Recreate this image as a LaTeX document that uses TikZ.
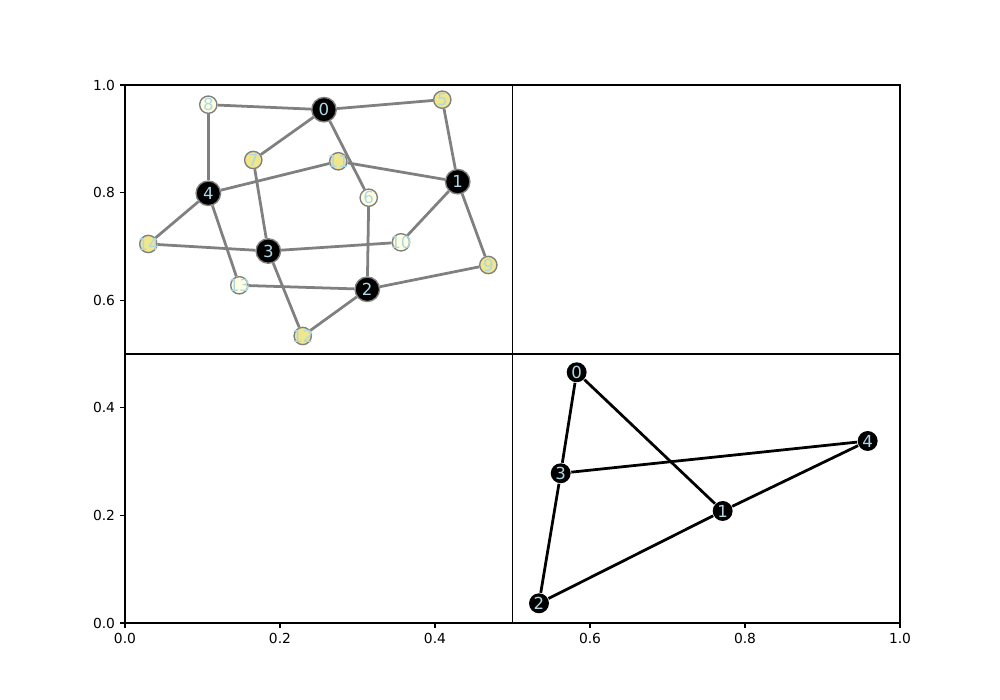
\documentclass[tikz,border=0pt]{standalone}
\usepackage{fontspec}
\setmainfont{DejaVu Sans}
\usetikzlibrary{backgrounds}
\definecolor{khaki}{HTML}{F0E68C}
\definecolor{paleyellow}{HTML}{FFFFE0}
\definecolor{paleblue}{HTML}{ADD8E6}

\begin{document}
\begin{tikzpicture}[x=7.75in,y=5.38in,
                     hub/.style={
                                % The shape:
                                circle,minimum size=17.7pt,inner sep=-4pt,
                                % The rest
                                fill=black,draw=gray,line width=1pt,
                                text=paleblue,font=\fontsize{12}{12}\selectfont},
                     leaf/.style={hub,minimum size=12.5pt},
                     spot/.style={hub,draw=none,minimum size=14.4pt},
                     link/.style={draw=gray,line width=2pt},
                     bond/.style={draw=black,line width=2pt},
                     tick/.style={font=\fontsize{10}{10}\selectfont}]
 \useasboundingbox (-1.25in,-0.77in) rectangle (8.75in,6.23in);
 % axes and panels
 \draw [line width=0.8pt] (0,0) rectangle (1,1)
                          (0.5,0) -- (0.5,1)
                          (0,0.5) -- (1,0.5);
 \foreach \t [count=\i] in {0.0,0.2,0.4,0.6,0.8,1.0}
   {
    \draw [line width=0.8pt] (\t,0) -- ++(0,-3.5pt);
    \draw [line width=0.8pt] (0,\t) -- ++(-3.5pt,0);
    \node (xtick\i) [tick,anchor=north,inner sep=0pt] at ([yshift=-7pt]\t,0) {\t};
    \node (ytick\i) [tick,anchor=east,inner sep=0pt] at ([xshift=-7pt]0,\t) {\t};
   }

 % upper left graph
 \node (t0)  [hub]                  at (0.2568,0.9541) {0};
 \node (t1)  [hub]                  at (0.4293,0.8203) {1};
 \node (t2)  [hub]                  at (0.3126,0.6203) {2};
 \node (t3)  [hub]                  at (0.1849,0.6914) {3};
 \node (t4)  [hub]                  at (0.1075,0.7987) {4};
 \node (t5)  [leaf,fill=khaki]      at (0.4094,0.9727) {5};
 \node (t6)  [leaf,fill=paleyellow] at (0.3145,0.7905) {6};
 \node (t7)  [leaf,fill=khaki]      at (0.1655,0.8606) {7};
 \node (t8)  [leaf,fill=paleyellow] at (0.1075,0.9634) {8};
 \node (t9)  [leaf,fill=khaki]      at (0.4688,0.6654) {9};
 \node (t10) [leaf,fill=paleyellow] at (0.3561,0.7076) {10};
 \node (t11) [leaf,fill=khaki]      at (0.2752,0.8582) {11};
 \node (t12) [leaf,fill=khaki]      at (0.2293,0.5335) {12};
 \node (t13) [leaf,fill=paleyellow] at (0.1475,0.6277) {13};
 \node (t14) [leaf,fill=khaki]      at (0.0301,0.7045) {14};

 % lower right graph
 \node (b0) [spot] at (0.5828,0.4660) {0};
 \node (b1) [spot] at (0.7712,0.2082) {1};
 \node (b2) [spot] at (0.5342,0.0366) {2};
 \node (b3) [spot] at (0.5622,0.2783) {3};
 \node (b4) [spot] at (0.9583,0.3383) {4};

 \begin{pgfonlayer}{background}
  \foreach \a/\b in {0/8,0/5,0/7,0/6,8/4,5/1,4/11,11/1,4/14,4/13,
                     7/3,6/2,1/10,1/9,14/3,3/10,3/12,13/2,2/9,2/12}
    \draw [link] (t\a) -- (t\b);
  \foreach \a/\b in {0/3,0/1,3/4,3/2,2/1,1/4}
    \draw [bond] (b\a) -- (b\b);
 \end{pgfonlayer}
\end{tikzpicture}
\end{document}
